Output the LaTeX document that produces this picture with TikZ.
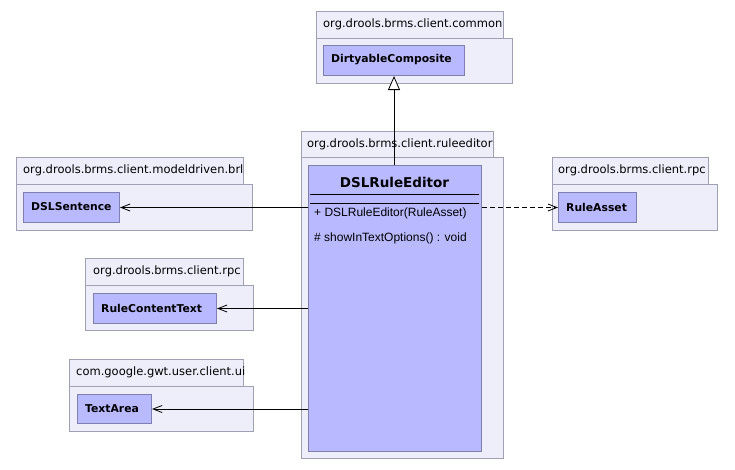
\documentclass[tikz,border=0pt]{standalone}
\usepackage{fontspec}
\setmainfont{DejaVu Sans}
\newfontfamily\opfont{Liberation Sans}
\usetikzlibrary{arrows.meta}
\definecolor{pkgfill}{RGB}{238,238,251}
\definecolor{pkgline}{RGB}{160,160,180}
\definecolor{clsfill}{RGB}{185,185,255}
\definecolor{clsline}{RGB}{128,128,176}
\tikzset{
  pkgbox/.style={draw=pkgline, fill=pkgfill, line width=1pt, inner sep=0pt, anchor=north west},
  pkglabel/.style={anchor=west, font=\fontsize{11.5}{13}\selectfont, inner sep=0pt},
  clsbox/.style={draw=clsline, fill=clsfill, line width=1pt, inner sep=0pt, anchor=north west},
  clsname/.style={anchor=west, font=\bfseries\fontsize{10.8}{13}\selectfont, inner sep=0pt},
  optext/.style={anchor=west, font=\opfont\fontsize{12}{14}\selectfont, inner sep=0pt},
  assoc/.style={-{Straight Barb[length=9pt,width=7pt]}, line width=0.8pt},
  depend/.style={assoc, dash pattern=on 5pt off 3pt},
  gen/.style={-{Triangle[open,length=14pt,width=12pt,fill=white]}, line width=0.8pt}
}
\begin{document}
\begin{tikzpicture}[x=1pt,y=-1pt]
\useasboundingbox[fill=white] (0,0) rectangle (735,469);

% top package
\node[pkgbox, minimum width=187pt, minimum height=27pt] (ptab1) at (316,11) {};
\node[pkgbox, minimum width=196pt, minimum height=45pt] (pbody1) at (316,38) {};
\node[pkglabel] (plab1) at (323,24.5) {org.drools.brms.client.common};
\node[clsbox, minimum width=141pt, minimum height=30pt] (dirty) at (323,45) {};
\node[clsname] (dirtyl) at (331,60) {DirtyableComposite};

% ruleeditor package
\node[pkgbox, minimum width=192pt, minimum height=26pt] (ptab2) at (301,131) {};
\node[pkgbox, minimum width=202pt, minimum height=301pt] (pbody2) at (301,157) {};
\node[pkglabel] (plab2) at (307,144) {org.drools.brms.client.ruleeditor};
\node[clsbox, minimum width=173pt, minimum height=286pt] (editor) at (308,165) {};
\node[anchor=center, inner sep=0pt, font=\bfseries\fontsize{13.5}{16}\selectfont] (editorl) at (394.5,182) {DSLRuleEditor};
\coordinate (s1a) at (310,194); \coordinate (s1b) at (479,194);
\coordinate (s2a) at (310,203); \coordinate (s2b) at (479,203);
\draw[line width=0.8pt] (s1a) -- (s1b);
\draw[line width=0.8pt] (s2a) -- (s2b);
\node[optext] (op1) at (314,213) {+ DSLRuleEditor(RuleAsset)};
\node[optext] (op2) at (314,238) {\# showInTextOptions() : void};

% modeldriven package
\node[pkgbox, minimum width=227pt, minimum height=27pt] (ptab3) at (16,157) {};
\node[pkgbox, minimum width=236pt, minimum height=46pt] (pbody3) at (16,184) {};
\node[pkglabel] (plab3) at (23,170.5) {org.drools.brms.client.modeldriven.brl};
\node[clsbox, minimum width=96pt, minimum height=30pt] (sent) at (23,192) {};
\node[clsname] (sentl) at (31,207) {DSLSentence};

% rpc package (right)
\node[pkgbox, minimum width=156pt, minimum height=27pt] (ptab4) at (552,157) {};
\node[pkgbox, minimum width=165pt, minimum height=46pt] (pbody4) at (552,184) {};
\node[pkglabel] (plab4) at (558,170.5) {org.drools.brms.client.rpc};
\node[clsbox, minimum width=78pt, minimum height=30pt] (asset) at (558,192) {};
\node[clsname] (assetl) at (566,207) {RuleAsset};

% rpc package (left)
\node[pkgbox, minimum width=158pt, minimum height=27pt] (ptab5) at (85,258) {};
\node[pkgbox, minimum width=168pt, minimum height=45pt] (pbody5) at (85,285) {};
\node[pkglabel] (plab5) at (93,271.5) {org.drools.brms.client.rpc};
\node[clsbox, minimum width=123pt, minimum height=30pt] (rct) at (93,293) {};
\node[clsname] (rctl) at (101,308) {RuleContentText};

% gwt package
\node[pkgbox, minimum width=174pt, minimum height=27pt] (ptab6) at (69,359) {};
\node[pkgbox, minimum width=184pt, minimum height=45pt] (pbody6) at (69,386) {};
\node[pkglabel] (plab6) at (76,372.5) {com.google.gwt.user.client.ui};
\node[clsbox, minimum width=74pt, minimum height=29pt] (area) at (77,394) {};
\node[clsname] (areal) at (85,408.5) {TextArea};

% connectors
\draw[gen] (editor.north -| dirty.south) -- (dirty.south);
\draw[assoc] (editor.west |- sent.east) -- (sent.east);
\draw[depend] (editor.east |- asset.west) -- (asset.west);
\draw[assoc] (editor.west |- rct.east) -- (rct.east);
\draw[assoc] (editor.west |- area.east) -- (area.east);
\end{tikzpicture}
\end{document}
